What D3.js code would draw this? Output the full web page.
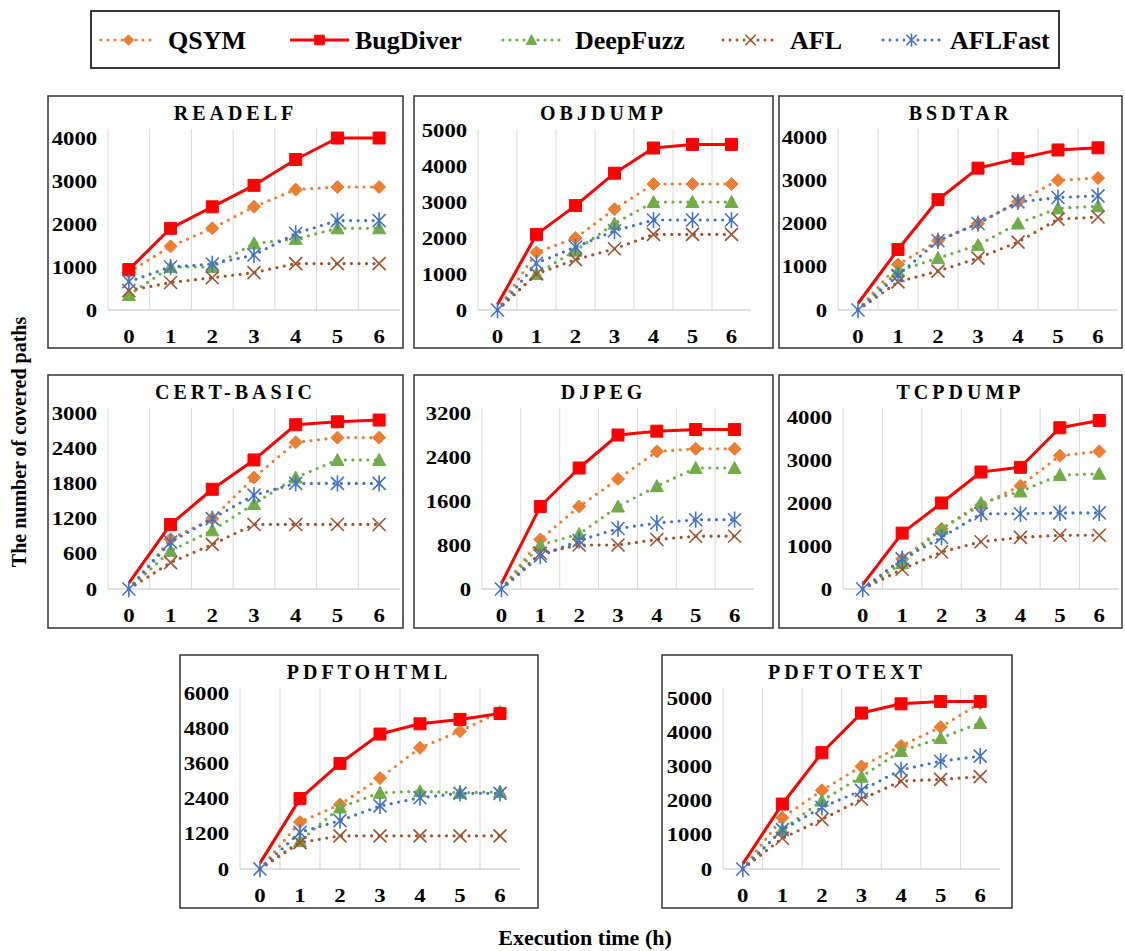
<!DOCTYPE html>
<html>
<head>
<meta charset="utf-8">
<script src="https://cdn.jsdelivr.net/npm/d3@7"></script>
<style>
  body { margin: 0; background: #fff; }
  svg { display: block; font-family: 'Liberation Serif', 'Times New Roman', serif; }
</style>
</head>
<body>
<script>
// ---- data ----
const hours = [0, 1, 2, 3, 4, 5, 6];
const tools = ['QSYM', 'BugDiver', 'DeepFuzz', 'AFL', 'AFLFast'];
const programs = ['READELF', 'OBJDUMP', 'BSDTAR', 'CERT-BASIC', 'DJPEG', 'TCPDUMP', 'PDFTOHTML', 'PDFTOTEXT'];
const yMax = [4000, 5000, 4000, 3000, 3200, 4000, 6000, 5000];
const yStep = [1000, 1000, 1000, 600, 800, 1000, 1200, 1000];

// one row per program, one value per hour
const qsym = [
  [880, 1480, 1900, 2400, 2800, 2860, 2860],
  [0, 1600, 2000, 2800, 3500, 3500, 3500],
  [0, 1050, 1600, 2000, 2500, 3000, 3050],
  [0, 850, 1200, 1900, 2500, 2580, 2580],
  [0, 900, 1500, 2000, 2500, 2550, 2550],
  [0, 700, 1400, 1950, 2400, 3100, 3200],
  [0, 1600, 2200, 3100, 4130, 4700, 5350],
  [0, 1500, 2300, 3000, 3600, 4150, 4850]
];
const bugDiver = [
  [940, 1900, 2400, 2900, 3500, 4000, 4000],
  [150, 2100, 2900, 3800, 4500, 4600, 4600],
  [150, 1400, 2550, 3280, 3500, 3700, 3750],
  [100, 1100, 1700, 2200, 2800, 2850, 2880],
  [100, 1500, 2200, 2800, 2870, 2900, 2900],
  [100, 1300, 2000, 2720, 2830, 3750, 3920],
  [200, 2400, 3600, 4600, 4950, 5100, 5300],
  [150, 1900, 3400, 4560, 4830, 4900, 4900]
];
const deepFuzz = [
  [350, 1000, 1000, 1550, 1650, 1900, 1900],
  [0, 1000, 1650, 2400, 3000, 3000, 3000],
  [0, 900, 1200, 1500, 2000, 2350, 2400],
  [0, 650, 1000, 1450, 1900, 2200, 2200],
  [0, 800, 1000, 1500, 1870, 2200, 2200],
  [0, 600, 1400, 2000, 2270, 2650, 2680],
  [0, 950, 2100, 2600, 2650, 2600, 2630],
  [0, 1150, 2000, 2700, 3450, 3830, 4270]
];
const afl = [
  [450, 640, 750, 870, 1080, 1080, 1080],
  [0, 1000, 1400, 1700, 2100, 2100, 2100],
  [0, 650, 900, 1200, 1570, 2100, 2150],
  [0, 450, 760, 1100, 1100, 1100, 1100],
  [0, 650, 800, 800, 900, 960, 960],
  [0, 460, 860, 1100, 1200, 1250, 1250],
  [0, 900, 1130, 1130, 1130, 1130, 1130],
  [0, 900, 1450, 2040, 2570, 2620, 2700]
];
const aflFast = [
  [660, 1000, 1070, 1280, 1780, 2080, 2080],
  [0, 1300, 1750, 2200, 2500, 2500, 2500],
  [0, 800, 1600, 2000, 2500, 2600, 2640],
  [0, 800, 1200, 1600, 1800, 1800, 1800],
  [0, 600, 880, 1100, 1200, 1260, 1260],
  [0, 700, 1200, 1750, 1750, 1770, 1770],
  [0, 1250, 1650, 2150, 2430, 2580, 2580],
  [0, 1150, 1800, 2300, 2900, 3150, 3300]
];
const seriesValues = [qsym, bugDiver, deepFuzz, afl, aflFast];

// ---- styles / layout ----
const styles = [
  { color: '#ED7D31', dotted: true, marker: 'diamond' },
  { color: '#FF0000', dotted: false, marker: 'square' },
  { color: '#70AD47', dotted: true, marker: 'triangle' },
  { color: '#A0522D', dotted: true, marker: 'cross' },
  { color: '#4472C4', dotted: true, marker: 'star' }
];

// box = [x, y, w, h]; x0/x1 = category axis extent; top = offset of y max
const layout = [
  { box: [48, 96, 355, 252], x0: 108, x1: 400, top: 42 },
  { box: [414, 96, 359, 252], x0: 478, x1: 751, top: 34 },
  { box: [779, 96, 343, 252], x0: 838, x1: 1118, top: 41 },
  { box: [48, 375, 355, 253], x0: 108, x1: 400, top: 38 },
  { box: [414, 375, 359, 253], x0: 482, x1: 754, top: 38 },
  { box: [779, 375, 343, 253], x0: 843, x1: 1119, top: 42 },
  { box: [180, 655, 358, 253], x0: 240, x1: 520, top: 38 },
  { box: [662, 655, 350, 253], x0: 723, x1: 1000, top: 43 }
];

const markerPath = (type, k = 1) => {
  const p = d3.path();
  if (type === 'diamond') {
    const s = 6.5 * k;
    p.moveTo(0, -s); p.lineTo(s, 0); p.lineTo(0, s); p.lineTo(-s, 0); p.closePath();
  } else if (type === 'square') {
    const s = 6 * k;
    p.rect(-s, -s, 2 * s, 2 * s);
  } else if (type === 'triangle') {
    const s = 6.5 * k;
    p.moveTo(0, -s); p.lineTo(s, s * 0.85); p.lineTo(-s, s * 0.85); p.closePath();
  } else if (type === 'cross') {
    const s = 6.5 * k;
    p.moveTo(-s, -s); p.lineTo(s, s); p.moveTo(-s, s); p.lineTo(s, -s);
  } else {
    const s = 6.5 * k;
    p.moveTo(-s, -s); p.lineTo(s, s); p.moveTo(-s, s); p.lineTo(s, -s);
    p.moveTo(0, -s * 1.25); p.lineTo(0, s * 1.25);
  }
  return p.toString();
};

const drawMarker = (sel, st, k) => {
  const open = st.marker === 'cross' || st.marker === 'star';
  sel.attr('d', markerPath(st.marker, k))
    .attr('fill', open ? 'none' : st.color)
    .attr('stroke', st.color)
    .attr('stroke-width', open ? 1.6 : 1);
};

const svg = d3.select('body').append('svg').attr('width', 1125).attr('height', 951);
svg.append('rect').attr('width', 1125).attr('height', 951).attr('fill', '#fff');

// ---- legend ----
const legendX = [
  { a: 101, b: 156, t: 168 },
  { a: 290, b: 349, t: 355 },
  { a: 503, b: 560, t: 575 },
  { a: 723, b: 778, t: 790 },
  { a: 883, b: 940, t: 950 }
];
svg.append('rect')
  .attr('x', 91).attr('y', 11).attr('width', 968).attr('height', 57)
  .attr('fill', 'none').attr('stroke', '#222').attr('stroke-width', 1.8);

tools.forEach((name, i) => {
  const st = styles[i], lx = legendX[i], ly = 40;
  const g = svg.append('g');
  g.append('line')
    .attr('x1', lx.a).attr('x2', lx.b).attr('y1', ly).attr('y2', ly)
    .attr('stroke', st.color)
    .attr('stroke-width', 3)
    .attr('stroke-linecap', st.dotted ? 'round' : 'butt')
    .attr('stroke-dasharray', st.dotted ? '0 7' : null);
  g.append('path')
    .attr('transform', `translate(${(lx.a + lx.b) / 2},${ly})`)
    .call(drawMarker, st, 0.8);
  g.append('text')
    .attr('x', lx.t).attr('y', ly + 9)
    .attr('font-size', 26).attr('font-weight', 'bold')
    .text(name);
});

// ---- panels ----
programs.forEach((prog, pi) => {
  const L = layout[pi];
  const [bx, by, bw, bh] = L.box;
  const bottom = by + 214;
  const g = svg.append('g');

  g.append('rect')
    .attr('x', bx).attr('y', by).attr('width', bw).attr('height', bh)
    .attr('fill', '#fff').attr('stroke', '#333').attr('stroke-width', 1.5);

  g.append('text')
    .attr('x', bx + bw / 2 + 10).attr('y', by + 24)
    .attr('text-anchor', 'middle')
    .attr('font-size', 20).attr('font-weight', 'bold')
    .attr('letter-spacing', 4)
    .text(prog);

  const x = d3.scaleBand().domain(hours).range([L.x0, L.x1]);
  const y = d3.scaleLinear().domain([0, yMax[pi]]).range([bottom, by + L.top]);
  const cx = (h) => x(h) + x.bandwidth() / 2;

  // vertical gridlines at category boundaries
  g.selectAll('.grid')
    .data(hours)
    .enter()
    .append('line')
    .attr('x1', (h) => x(h)).attr('x2', (h) => x(h))
    .attr('y1', by + 33).attr('y2', bottom)
    .attr('stroke', '#D9D9D9').attr('stroke-width', 1);

  g.append('line')
    .attr('x1', L.x0).attr('x2', L.x1).attr('y1', bottom).attr('y2', bottom)
    .attr('stroke', '#BFBFBF').attr('stroke-width', 1.2);

  const yAxis = g.append('g')
    .attr('transform', `translate(${L.x0},0)`)
    .call(d3.axisLeft(y)
      .tickValues(d3.range(0, yMax[pi] + 1, yStep[pi]))
      .tickFormat(d3.format('d'))
      .tickSize(0).tickPadding(9));
  yAxis.select('.domain').remove();
  yAxis.selectAll('text')
    .attr('font-family', "'Liberation Serif', serif")
    .attr('font-size', 19).attr('font-weight', 'bold').attr('fill', '#000')
    .attr('transform', 'scale(1.2,1)');

  const xAxis = g.append('g')
    .attr('transform', `translate(0,${bottom})`)
    .call(d3.axisBottom(x).tickSize(0).tickPadding(20));
  xAxis.select('.domain').remove();
  xAxis.selectAll('text')
    .attr('font-family', "'Liberation Serif', serif")
    .attr('font-size', 19).attr('font-weight', 'bold').attr('fill', '#000')
    .attr('transform', 'scale(1.2,1)');

  const line = d3.line().x((d) => cx(d.h)).y((d) => y(d.v));

  tools.forEach((tool, si) => {
    const st = styles[si];
    const pts = hours.map((h, k) => ({ h, v: seriesValues[si][pi][k] }));
    g.append('path')
      .datum(pts)
      .attr('d', line)
      .attr('fill', 'none')
      .attr('stroke', st.color)
      .attr('stroke-width', st.dotted ? 3.2 : 3)
      .attr('stroke-linecap', st.dotted ? 'round' : 'butt')
      .attr('stroke-linejoin', 'round')
      .attr('stroke-dasharray', st.dotted ? '0 7.5' : null);

    // markers at the zero start are hidden behind the AFLFast star
    g.selectAll(null)
      .data(pts.filter((d) => !(d.h === 0 && d.v < 300 && tool !== 'AFLFast')))
      .enter()
      .append('path')
      .attr('transform', (d) => `translate(${cx(d.h)},${y(d.v)})`)
      .each(function () { d3.select(this).call(drawMarker, st, 1); });
  });
});

// ---- axis titles ----
svg.append('text')
  .attr('transform', 'translate(26,442) rotate(-90)')
  .attr('text-anchor', 'middle')
  .attr('font-size', 20).attr('font-weight', 'bold')
  .text('The number of covered paths');

svg.append('text')
  .attr('x', 585).attr('y', 945)
  .attr('text-anchor', 'middle')
  .attr('font-size', 22).attr('font-weight', 'bold')
  .text('Execution time (h)');
</script>
</body>
</html>
